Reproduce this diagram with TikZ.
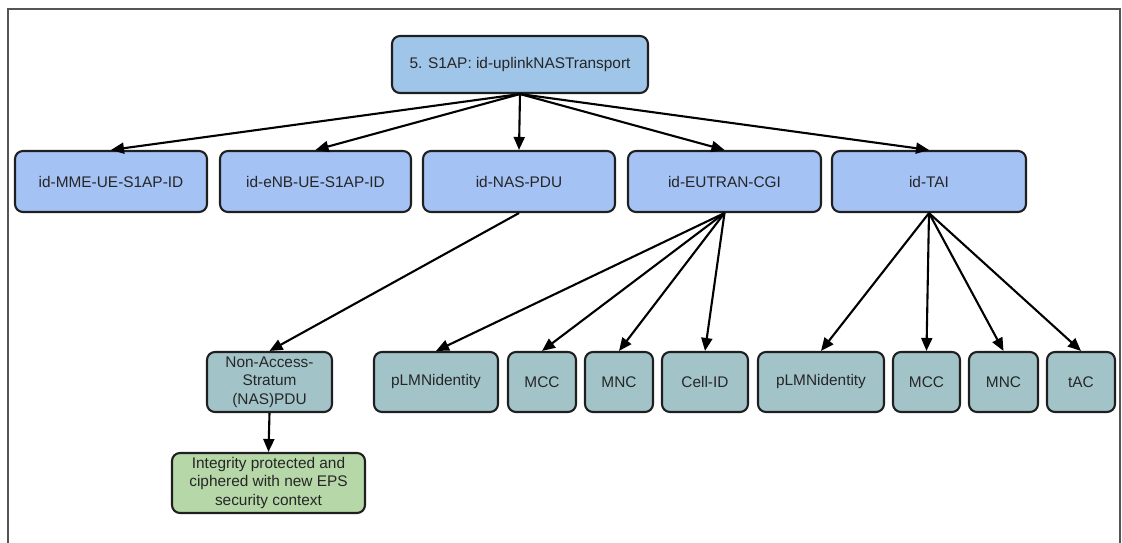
\documentclass[tikz,border=0pt]{standalone}
\usepackage{fontspec}
\setmainfont{Liberation Sans}
\usetikzlibrary{arrows.meta}
\definecolor{rootblue}{HTML}{9FC5E8}
\definecolor{ieblue}{HTML}{A4C2F4}
\definecolor{fieldteal}{HTML}{A2C4C9}
\definecolor{notegreen}{HTML}{B6D7A8}
\definecolor{boxline}{HTML}{1F1F1F}
\definecolor{framegray}{HTML}{555555}
\tikzset{
  box/.style={draw=boxline, line width=2.1pt, rounded corners=8pt,
    inner sep=0pt, align=center, text=black!85,
    font=\fontsize{15.4}{18.6}\selectfont},
  rootbox/.style={box, fill=rootblue, minimum height=57pt},
  iebox/.style={box, fill=ieblue, minimum height=61pt},
  fieldbox/.style={box, fill=fieldteal, minimum height=60pt},
  notebox/.style={box, fill=notegreen, minimum height=60pt},
  link/.style={line width=2.1pt, draw=black,
    -{Triangle[length=13pt,width=11pt]}}
}
\begin{document}
\begin{tikzpicture}[x=1pt,y=-1pt]
\useasboundingbox (0,0) rectangle (1122,543);
% outer frame (open at the bottom)
\draw[framegray, line width=2pt] (8,543) -- (8,9) -- (1120,9) -- (1120,543);

% message
\node[rootbox, minimum width=256pt] (root) at (520,64.5) {5. S1AP: id-uplinkNASTransport};

% information elements
\node[iebox, minimum width=192pt] (mme) at (111,181.5) {id-MME-UE-S1AP-ID};
\node[iebox, minimum width=191pt] (enb) at (315.5,181.5) {id-eNB-UE-S1AP-ID};
\node[iebox, minimum width=192pt] (naspdu) at (519,181.5) {id-NAS-PDU};
\node[iebox, minimum width=193pt] (eutran) at (724.5,181.5) {id-EUTRAN-CGI};
\node[iebox, minimum width=194pt] (tai) at (929,181.5) {id-TAI};

% sub-fields
\node[fieldbox, minimum width=125pt] (nas) at (269.5,382) {Non-Access-\\Stratum\\(NAS)PDU};
\node[fieldbox, minimum width=124pt] (plmna) at (436,382) {pLMNidentity};
\node[fieldbox, minimum width=68pt] (mcca) at (542,382) {MCC};
\node[fieldbox, minimum width=68pt] (mnca) at (619,382) {MNC};
\node[fieldbox, minimum width=86pt] (cellid) at (705,382) {Cell-ID};
\node[fieldbox, minimum width=126pt] (plmnb) at (821,382) {pLMNidentity};
\node[fieldbox, minimum width=67pt] (mccb) at (926.5,382) {MCC};
\node[fieldbox, minimum width=69pt] (mncb) at (1003.5,382) {MNC};
\node[fieldbox, minimum width=68pt] (tac) at (1081,382) {tAC};

% protection note
\node[notebox, minimum width=193pt] (prot) at (268.5,483) {Integrity protected and\\ciphered with new EPS\\security context};

% connectors
\foreach \c in {mme,enb,naspdu,eutran,tai}
  \draw[link] (root.south) -- (\c.north);
\draw[link] (naspdu.south) -- (nas.north);
\foreach \c in {plmna,mcca,mnca,cellid}
  \draw[link] (eutran.south) -- (\c.north);
\foreach \c in {plmnb,mccb,mncb,tac}
  \draw[link] (tai.south) -- (\c.north);
\draw[link] (nas.south) -- (prot.north);
\end{tikzpicture}
\end{document}
